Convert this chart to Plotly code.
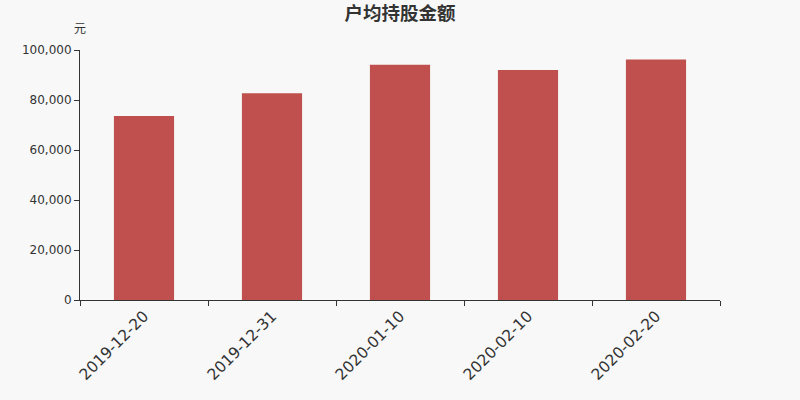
import plotly.graph_objects as go

dates = ["2019-12-20", "2019-12-31", "2020-01-10", "2020-02-10", "2020-02-20"]
values = [73600, 82700, 94100, 92000, 96200]

fig = go.Figure()
fig.add_trace(go.Bar(x=dates, y=values, marker=dict(color="#c0504d", line=dict(width=0)), width=0.47))

cjk = "Noto Sans CJK SC, sans-serif"
latin = "DejaVu Sans, sans-serif"
fig.update_layout(
    width=800, height=400,
    paper_bgcolor="#f8f8f8", plot_bgcolor="#f8f8f8",
    margin=dict(l=80, r=80, t=50, b=100),
    showlegend=False,
    title=dict(text="<b>户均持股金额</b>", x=0.5, xanchor="center", y=0.967, yanchor="middle",
               font=dict(family=cjk, size=18.5, color="#333333")),
    font=dict(family=latin, color="#333333"),
)
fig.update_xaxes(type="category", tickson="boundaries", ticks="outside", ticklen=5,
                 tickcolor="#333333", showline=True, linecolor="#333333", linewidth=1,
                 tickangle=-45, tickfont=dict(family=latin, size=15.5, color="#333333"), showgrid=False)
fig.update_yaxes(range=[0, 100000], tickvals=[0, 20000, 40000, 60000, 80000, 100000],
                 tickformat=",d", ticks="outside", ticklen=5, tickcolor="#333333",
                 showline=True, linecolor="#333333", linewidth=1, showgrid=False,
                 zeroline=False, tickfont=dict(family=latin, size=12, color="#333333"))
fig.add_annotation(text="元", xref="paper", yref="paper", x=0, y=1, xanchor="center",
                   yanchor="bottom", yshift=12, showarrow=False,
                   font=dict(family=cjk, size=12, color="#333333"))
fig.write_html("out.html", config={"displayModeBar": False},
               post_script="document.body.style.margin='0';document.body.style.background='#f8f8f8';")
